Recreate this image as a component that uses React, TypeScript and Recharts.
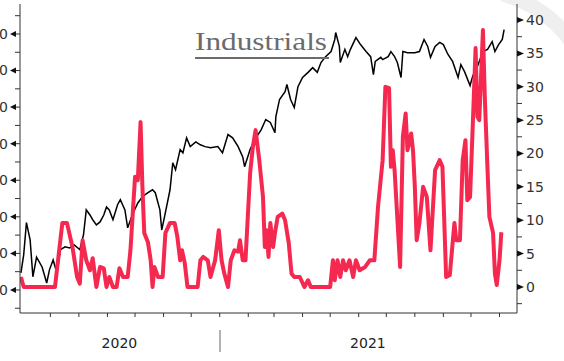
import { LineChart, Line, XAxis, YAxis } from "recharts"

// days counted from 1 Jan 2021
const blackDays = [
  -216, -213, -210, -206, -203, -199, -193, -188, -185, -181,
  -177, -173, -168, -163, -158, -152, -148, -145, -141, -138,
  -134, -130, -126, -123, -120, -116, -111, -108, -103, -100,
  -95, -89, -84, -78, -73, -70, -65, -63, -60, -54,
  -51, -48, -43, -40, -36, -32, -26, -21, -16, -10,
  -2, 3, 9, 14, 20, 25, 27, 33, 38, 45,
  50, 55, 60, 61, 65, 71, 73, 77, 81, 85,
  90, 96, 101, 106, 110, 115, 121, 125, 126, 130,
  131, 136, 139, 142, 148, 153, 159, 164, 167, 169,
  175, 177, 183, 186, 190, 193, 197, 199, 204, 212,
  217, 222, 226, 229, 234, 239, 243, 248, 253, 259,
  262, 266, 272, 275, 280, 286, 291, 296, 299, 303,
  307, 309,
]
const blackValues = [
  4.7, 9.6, 18.4, 13.7, 3.6, 9.0, 6.3, 1.9, 5.5, 8.2,
  4.7, 11.0, 11.8, 11.5, 12.3, 11.0, 15.1, 21.9, 20.5, 19.2,
  17.8, 18.6, 20.5, 22.7, 21.9, 19.2, 23.3, 24.7, 21.9, 17.0,
  20.5, 23.8, 25.5, 26.6, 27.4, 26.6, 21.9, 16.4, 20.0, 27.4,
  34.8, 32.9, 38.4, 37.5, 41.6, 39.2, 40.5, 39.7, 39.2, 38.9,
  39.2, 37.5, 42.5, 41.6, 39.2, 36.4, 33.7, 38.4, 41.1, 43.8,
  46.6, 45.8, 43.0, 47.4, 52.1, 54.2, 56.2, 52.1, 49.9, 55.6,
  58.1, 59.5, 60.8, 59.5, 62.2, 63.8, 65.2, 68.5, 70.4, 66.6,
  62.2, 65.8, 63.8, 65.8, 69.0, 67.1, 65.2, 63.8, 58.9, 62.5,
  63.6, 63.0, 63.8, 65.2, 63.8, 62.2, 58.1, 65.2, 64.9, 64.9,
  65.2, 68.5, 66.6, 63.6, 66.6, 67.7, 67.1, 64.4, 62.5, 58.1,
  61.6, 59.7, 55.9, 58.6, 61.1, 65.2, 65.8, 67.9, 65.2, 67.1,
  68.5, 71.2,
]

const redDays = [
  -216, -213, -179, -174, -171, -166, -160, -155, -152, -149,
  -145, -141, -138, -134, -130, -126, -123, -120, -116, -112,
  -109, -105, -100, -97, -92, -89, -86, -84, -82, -78,
  -75, -73, -71, -67, -62, -59, -54, -49, -46, -43,
  -41, -38, -35, -24, -21, -18, -13, -10, -5, -1,
  2, 5, 9, 12, 16, 20, 22, 25, 28, 33,
  36, 39, 43, 47, 49, 51, 53, 55, 58, 60,
  63, 68, 71, 75, 78, 81, 87, 92, 96, 99,
  120, 123, 125, 128, 131, 134, 137, 141, 145, 148,
  152, 158, 163, 168, 172, 177, 180, 184, 186, 188,
  190, 196, 199, 202, 204, 208, 210, 212, 214, 217,
  221, 225, 229, 234, 239, 242, 246, 250, 255, 257,
  261, 264, 267, 269, 272, 275, 278, 280, 282, 286,
  288, 291, 293, 297, 299, 301, 304, 306,
]
const redValues = [
  1.5, 0, 0, 6, 9.6, 9.6, 6, 1.5, 0.5, 7,
  4, 2.5, 4.3, 0, 3, 2.8, 0, 1.5, 0, 0,
  2.8, 1.5, 1.5, 5.5, 16.5, 16, 24.7, 15, 8.1, 6.7,
  4, 0, 3, 1.5, 1.5, 8.1, 9.6, 9.6, 7.5, 4,
  5.5, 3.6, 0, 0, 4, 4.5, 4, 1.5, 4, 8.5,
  4, 2, 0, 4, 5.5, 5.3, 7, 4, 4, 17,
  21, 23.5, 19, 13.5, 6, 8.5, 4.5, 9.6, 6, 8.1,
  10.5, 11, 10, 6.6, 2, 1.5, 1.5, 0, 1, 0,
  0, 4, 1, 4, 1.5, 4, 2.5, 4, 1.5, 4,
  2.5, 3, 4, 4, 12, 19, 30, 29.8, 18, 20.5,
  17.5, 3, 22.5, 26, 20.5, 23, 20.5, 15, 7, 9.6,
  15, 13.5, 5.5, 17.5, 19, 18, 1.5, 1.8, 9.6, 7,
  7, 19, 22, 13, 13.5, 24.5, 35.8, 25.5, 25, 38.5,
  28.5, 17.5, 10.5, 8.1, 2, 0.3, 4, 8.2,
]

const monthTicks = [-184, -153, -122, -92, -61, -31, 0, 31, 59, 90, 120, 151, 181, 212, 243, 273, 304]
const yearLabels = ["2020", "2021"]
const yearCenters = [-109, 161]
const leftTicks = [-5, 0, 5, 10, 15, 20, 25, 30, 35, 40, 45, 50, 55, 60, 65, 70, 75]
const rightTicks = [-2.5, 0, 2.5, 5, 7.5, 10, 12.5, 15, 17.5, 20, 22.5, 25, 27.5, 30, 32.5, 35, 37.5, 40]

const blackData = blackDays.map((d, i) => ({ day: d, v: blackValues[i] }))
const redData = redDays.map((d, i) => ({ day: d, v: redValues[i] }))

const AXIS = "#333"
const FONT = "DejaVu Sans, sans-serif"

function LeftTick(props: any) {
  const { x, y, payload } = props
  if (payload.value % 10 !== 0) {
    return <line x1={x - 5} y1={y} x2={x} y2={y} stroke={AXIS} strokeWidth={1} />
  }
  return (
    <g>
      <line x1={x - 4} y1={y} x2={x} y2={y} stroke={AXIS} strokeWidth={1} />
      <polygon points={`${x - 4},${y - 3} ${x - 4},${y + 3} ${x - 10},${y}`} fill="#111" />
      <text x={x - 12} y={y} dy="0.35em" textAnchor="end" fontSize={14} fontFamily={FONT} fill={AXIS}>
        {payload.value}
      </text>
    </g>
  )
}

function RightTick(props: any) {
  const { x, y, payload } = props
  if (payload.value % 5 !== 0) {
    return <line x1={x} y1={y} x2={x + 5} y2={y} stroke={AXIS} strokeWidth={1} />
  }
  return (
    <g>
      <polygon points={`${x},${y - 3} ${x},${y + 3} ${x + 7},${y}`} fill="#111" />
      <text x={x + 9} y={y} dy="0.35em" textAnchor="start" fontSize={14} fontFamily={FONT} fill={AXIS}>
        {payload.value}
      </text>
    </g>
  )
}

export default function App() {
  return (
    <div style={{ position: "absolute", left: 0, top: 0, width: 564, height: 361, overflow: "hidden", background: "#fff" }}>
      <svg width={564} height={361} style={{ position: "absolute", left: 0, top: 0 }}>
        <path d="M 503 -6 Q 545 6 572 42" stroke="#efefef" strokeWidth={15} fill="none" />
        <line x1={220} y1={330} x2={220} y2={352} stroke="#666" strokeWidth={1} />
      </svg>
      <div style={{ position: "absolute", left: -30, top: 0 }}>
        <LineChart width={600} height={361} margin={{ top: 4, right: 3, bottom: 0, left: 0 }}>
          <XAxis
            dataKey="day"
            type="number"
            domain={[-217, 323]}
            ticks={monthTicks}
            interval={0}
            tickFormatter={() => ""}
            tickSize={4}
            height={20}
            stroke={AXIS}
            allowDataOverflow
          />
          <XAxis
            xAxisId="year"
            dataKey="day"
            type="number"
            domain={[-217, 323]}
            ticks={yearCenters}
            interval={0}
            tickFormatter={(v: number) => yearLabels[yearCenters.indexOf(v)]}
            axisLine={false}
            tickLine={false}
            tickSize={0}
            tickMargin={5}
            height={28}
            tick={{ fontSize: 14, fontFamily: FONT, fill: "#222" }}
            allowDataOverflow
          />
          <YAxis
            yAxisId="left"
            orientation="left"
            type="number"
            domain={[-6.3, 78.2]}
            ticks={leftTicks}
            interval={0}
            width={50}
            tickSize={0}
            tickMargin={0}
            tickLine={false}
            tick={<LeftTick />}
            stroke={AXIS}
            allowDataOverflow
          />
          <YAxis
            yAxisId="right"
            orientation="right"
            type="number"
            domain={[-3.9, 42.4]}
            ticks={rightTicks}
            interval={0}
            width={50}
            tickSize={0}
            tickMargin={0}
            tickLine={false}
            tick={<RightTick />}
            stroke={AXIS}
            allowDataOverflow
          />
          <Line
            yAxisId="left"
            data={blackData}
            dataKey="v"
            type="linear"
            stroke="#000"
            strokeWidth={1.5}
            dot={false}
            isAnimationActive={false}
          />
          <Line
            yAxisId="right"
            data={redData}
            dataKey="v"
            type="linear"
            stroke="#f5284f"
            strokeWidth={4}
            strokeLinejoin="round"
            dot={false}
            isAnimationActive={false}
          />
        </LineChart>
      </div>
      <svg width={564} height={361} style={{ position: "absolute", left: 0, top: 0, pointerEvents: "none" }}>
        <text
          x={195}
          y={50}
          fontFamily="Liberation Serif, serif"
          fontSize={25}
          fill="#6b6b6b"
          textLength={132}
          lengthAdjust="spacingAndGlyphs"
        >
          Industrials
        </text>
        <rect x={195} y={57} width={134} height={2} fill="#6b6b6b" />
      </svg>
    </div>
  )
}
